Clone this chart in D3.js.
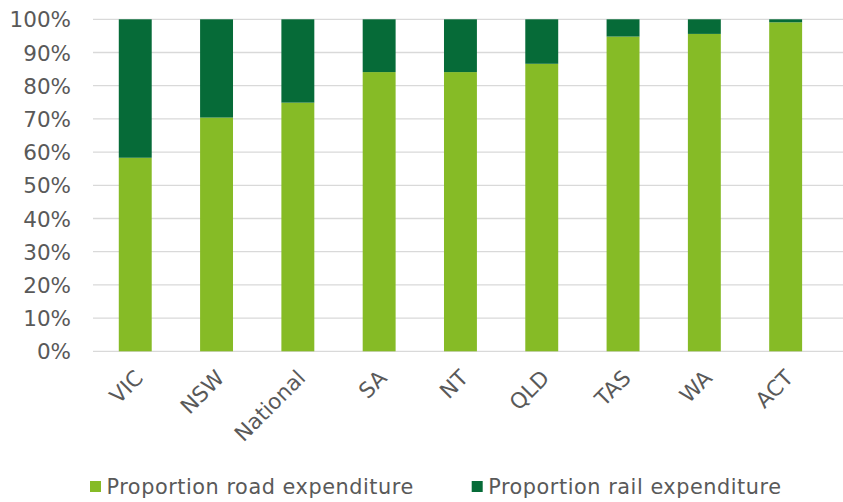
<!DOCTYPE html>
<html><head><meta charset="utf-8">
<script src="https://cdn.jsdelivr.net/npm/d3@7"></script>
<style>body{margin:0;background:#fff}svg{display:block}text{font-family:"DejaVu Sans",Verdana,sans-serif;fill:#595959}</style>
</head><body>
<script>
const categories = ["VIC","NSW","National","SA","NT","QLD","TAS","WA","ACT"];
const roadShare = [58.3,70.4,74.9,84.1,84.1,86.6,94.8,95.6,99.1];
const railShare = roadShare.map(v => 100 - v);
const tickValues = [0,10,20,30,40,50,60,70,80,90,100];
const seriesNames = ["Proportion road expenditure","Proportion rail expenditure"];
const colors = ["#86bb26","#066b38"];

const W = 843, H = 502;
const svg = d3.select("body").append("svg").attr("width",W).attr("height",H);

const y = d3.scaleLinear().domain([0,100]).range([351.3,19.3]);
const step = 81.3, left = 94.6;
const x = d3.scaleBand().domain(categories).range([left, left + step*categories.length])
  .paddingInner(0.595).paddingOuter(0.2975);

// gridlines
svg.append("g").selectAll("line").data(tickValues).join("line")
  .attr("x1",93).attr("x2",W).attr("y1",d=>y(d)).attr("y2",d=>y(d))
  .attr("stroke","#d9d9d9").attr("stroke-width",1.3);

// y axis labels
const yAxis = d3.axisLeft(y).tickValues(tickValues).tickFormat(d=>d+"%").tickSize(0).tickPadding(0);
const ya = svg.append("g").attr("transform","translate(71,0)").call(yAxis);
ya.select(".domain").remove();
ya.selectAll("text").attr("font-size",21.5).style("font-family",'"DejaVu Sans",Verdana,sans-serif').attr("fill","#595959").attr("dy","0.35em");

// stacked bars
const data = categories.map((c,i)=>({cat:c, road:roadShare[i], rail:railShare[i]}));
const stack = d3.stack().keys(["road","rail"])(data);
svg.append("g").selectAll("g").data(stack).join("g").attr("fill",(d,i)=>colors[i])
  .selectAll("rect").data(d=>d).join("rect")
  .attr("x",d=>x(d.data.cat)).attr("width",x.bandwidth())
  .attr("y",d=>y(d[1])).attr("height",d=>y(d[0])-y(d[1]));

// x axis labels
const xAxis = d3.axisBottom(x).tickSize(0).tickPadding(0);
const xa = svg.append("g").attr("transform","translate(0,351.3)").call(xAxis);
xa.select(".domain").remove();
xa.selectAll("text").attr("font-size",21.5).style("font-family",'"DejaVu Sans",Verdana,sans-serif').attr("fill","#595959")
  .attr("text-anchor","end").attr("dy",null).attr("y",0)
  .attr("transform","translate(9,28) rotate(-45)");

// legend
const legendX = [90, 471.7];
const lg = svg.append("g").selectAll("g").data(seriesNames).join("g")
  .attr("transform",(d,i)=>`translate(${legendX[i]},481)`);
lg.append("rect").attr("width",11).attr("height",11).attr("fill",(d,i)=>colors[i]);
lg.append("text").attr("x",16.5).attr("y",5.5).attr("dy","0.35em").attr("font-size",20.8)
  .attr("letter-spacing","0.55px").text(d=>d);
</script>
</body></html>
